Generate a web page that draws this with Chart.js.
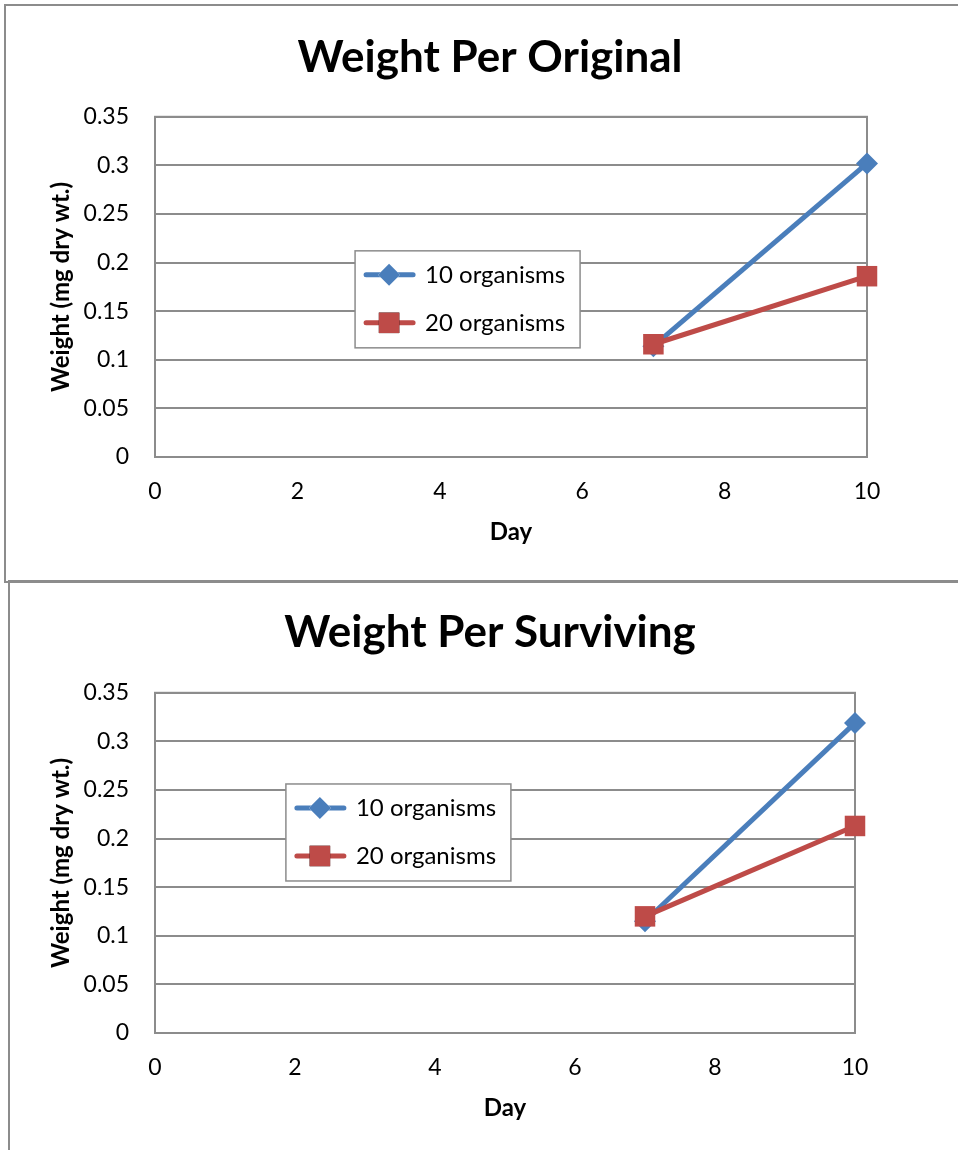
<!DOCTYPE html>
<html lang="en">
<head>
  <meta charset="UTF-8" />
  <title>Weight Per Original / Surviving</title>
  <script src="https://cdn.jsdelivr.net/npm/chart.js"></script>
  <style>
    body { margin: 0; background: #fff; width: 958px; height: 1150px; overflow: hidden; position: relative; }
    .box { position: absolute; border: 2px solid #8c8c8c; border-right: none; }
    .wrap { position: absolute; left: 0; width: 958px; }
  </style>
</head>
<body>
  <div class="box" style="left:4px; top:4px; width:960px; height:575px;"></div>
  <div class="box" style="left:8px; top:580px; width:960px; height:580px; border-bottom:none;"></div>
  <div class="wrap" style="top:0; height:581px;"><canvas id="originalChart"></canvas></div>
  <div class="wrap" style="top:581px; height:569px;"><canvas id="survivingChart"></canvas></div>

<script>
// data
const days = [7, 10];
const original10 = [0.114, 0.302];
const original20 = [0.116, 0.186];
const surviving10 = [0.115, 0.319];
const surviving20 = [0.120, 0.213];
const seriesNames = ['10 organisms', '20 organisms'];
const yTickLabels = ['0', '0.05', '0.1', '0.15', '0.2', '0.25', '0.3', '0.35'];
const xTickLabels = ['0', '2', '4', '6', '8', '10'];

const BLUE = '#4a7ebb';
const RED = '#be4b48';
const GRID = '#8c8c8c';
const FONT = 'Lato, "Open Sans", sans-serif';

const toPoints = (xs, ys) => xs.map((x, i) => ({ x: x, y: ys[i] }));

// plot-area frame, drawn under the lines
const frame = {
  id: 'frame',
  beforeDatasetsDraw(chart) {
    const { ctx, chartArea: a } = chart;
    ctx.save();
    ctx.strokeStyle = GRID;
    ctx.lineWidth = 2;
    ctx.strokeRect(a.left, a.top, a.right - a.left, a.bottom - a.top);
    ctx.restore();
  }
};

// boxed legend floating inside the plot area
const boxLegend = {
  id: 'boxLegend',
  afterDraw(chart, args, opts) {
    const { ctx, chartArea: a } = chart;
    const x = a.left + opts.fx * (a.right - a.left);
    const y = a.top + opts.fy * (a.bottom - a.top);
    const w = 225, h = 97;
    ctx.save();
    ctx.fillStyle = '#fff';
    ctx.fillRect(x, y, w, h);
    ctx.strokeStyle = GRID;
    ctx.lineWidth = 1.5;
    ctx.strokeRect(x, y, w, h);
    ctx.font = '24px ' + FONT;
    ctx.textBaseline = 'middle';
    chart.data.datasets.forEach((ds, i) => {
      const cy = y + 24 + i * 48;
      ctx.strokeStyle = ds.borderColor;
      ctx.lineWidth = 5;
      ctx.lineCap = 'round';
      ctx.beginPath();
      ctx.moveTo(x + 11, cy);
      ctx.lineTo(x + 58, cy);
      ctx.stroke();
      Chart.helpers.drawPoint(ctx, {
        pointStyle: ds.pointStyle, radius: ds.pointRadius, rotation: 0, borderWidth: 0
      }, x + 34, cy);
      ctx.fillStyle = ds.pointBackgroundColor;
      ctx.fill();
      ctx.fillStyle = '#000';
      ctx.fillText(ds.label, x + 70, cy);
    });
    ctx.restore();
  }
};

function makeChart(id, title, s10, s20, cfg) {
  return new Chart(document.getElementById(id), {
    type: 'line',
    data: {
      datasets: [
        {
          label: seriesNames[0], data: toPoints(days, s10),
          borderColor: BLUE, backgroundColor: BLUE, pointBackgroundColor: BLUE,
          borderWidth: 5, pointStyle: 'rectRot', pointRadius: 11, pointBorderWidth: 0,
          clip: false, order: 1
        },
        {
          label: seriesNames[1], data: toPoints(days, s20),
          borderColor: RED, backgroundColor: RED, pointBackgroundColor: RED,
          borderWidth: 5, pointStyle: 'rect', pointRadius: 14.5, pointBorderWidth: 0,
          clip: false, order: 0
        }
      ]
    },
    options: {
      responsive: true,
      maintainAspectRatio: false,
      animation: false,
      layout: { padding: { left: 22, right: 0, top: 0, bottom: 0 } },
      plugins: {
        legend: { display: false },
        tooltip: { enabled: false },
        title: {
          display: true, text: title, color: '#000',
          font: { family: FONT, size: 44, weight: 'bold', lineHeight: 1.2 },
          padding: { top: cfg.titleTop, bottom: cfg.titleBottom }
        },
        boxLegend: { fx: cfg.legendX, fy: cfg.legendY }
      },
      scales: {
        x: {
          type: 'linear', min: 0, max: 10,
          ticks: {
            stepSize: 2, padding: 21, color: '#000',
            font: { family: FONT, size: 23 },
            callback: (v, i) => xTickLabels[i]
          },
          grid: { display: false, drawTicks: false },
          border: { display: false },
          title: {
            display: true, text: 'Day', color: '#000',
            font: { family: FONT, size: 24, weight: 'bold', lineHeight: 1.2 },
            padding: { top: 0, bottom: cfg.dayBottom }
          },
          afterFit: s => { s.height = cfg.xHeight; }
        },
        y: {
          min: 0, max: 0.35,
          ticks: {
            stepSize: 0.05, padding: 26, color: '#000',
            font: { family: FONT, size: 23 },
            callback: (v, i) => yTickLabels[i]
          },
          grid: { color: GRID, lineWidth: 2, drawTicks: false },
          border: { display: false },
          title: {
            display: true, text: 'Weight (mg dry wt.)', color: '#000',
            font: { family: FONT, size: 24, weight: 'bold', lineHeight: 1.2 },
            padding: { top: 25, bottom: 0 }
          },
          afterFit: s => { s.width = 133; }
        },
        // empty right-hand axis, only reserves the margin right of the plot
        yRight: {
          position: 'right', min: 0, max: 1,
          ticks: { display: false },
          grid: { display: false, drawTicks: false },
          border: { display: false },
          afterFit: s => { s.width = cfg.padRight; }
        }
      }
    },
    plugins: [frame, boxLegend]
  });
}

makeChart('originalChart', 'Weight Per Original', original10, original20, {
  padRight: 91, titleTop: 31, titleBottom: 33, xHeight: 124, dayBottom: 34,
  legendX: 0.281, legendY: 0.394
});

makeChart('survivingChart', 'Weight Per Surviving', surviving10, surviving20, {
  padRight: 103, titleTop: 25, titleBottom: 34, xHeight: 117, dayBottom: 27,
  legendX: 0.187, legendY: 0.268
});
</script>
</body>
</html>
